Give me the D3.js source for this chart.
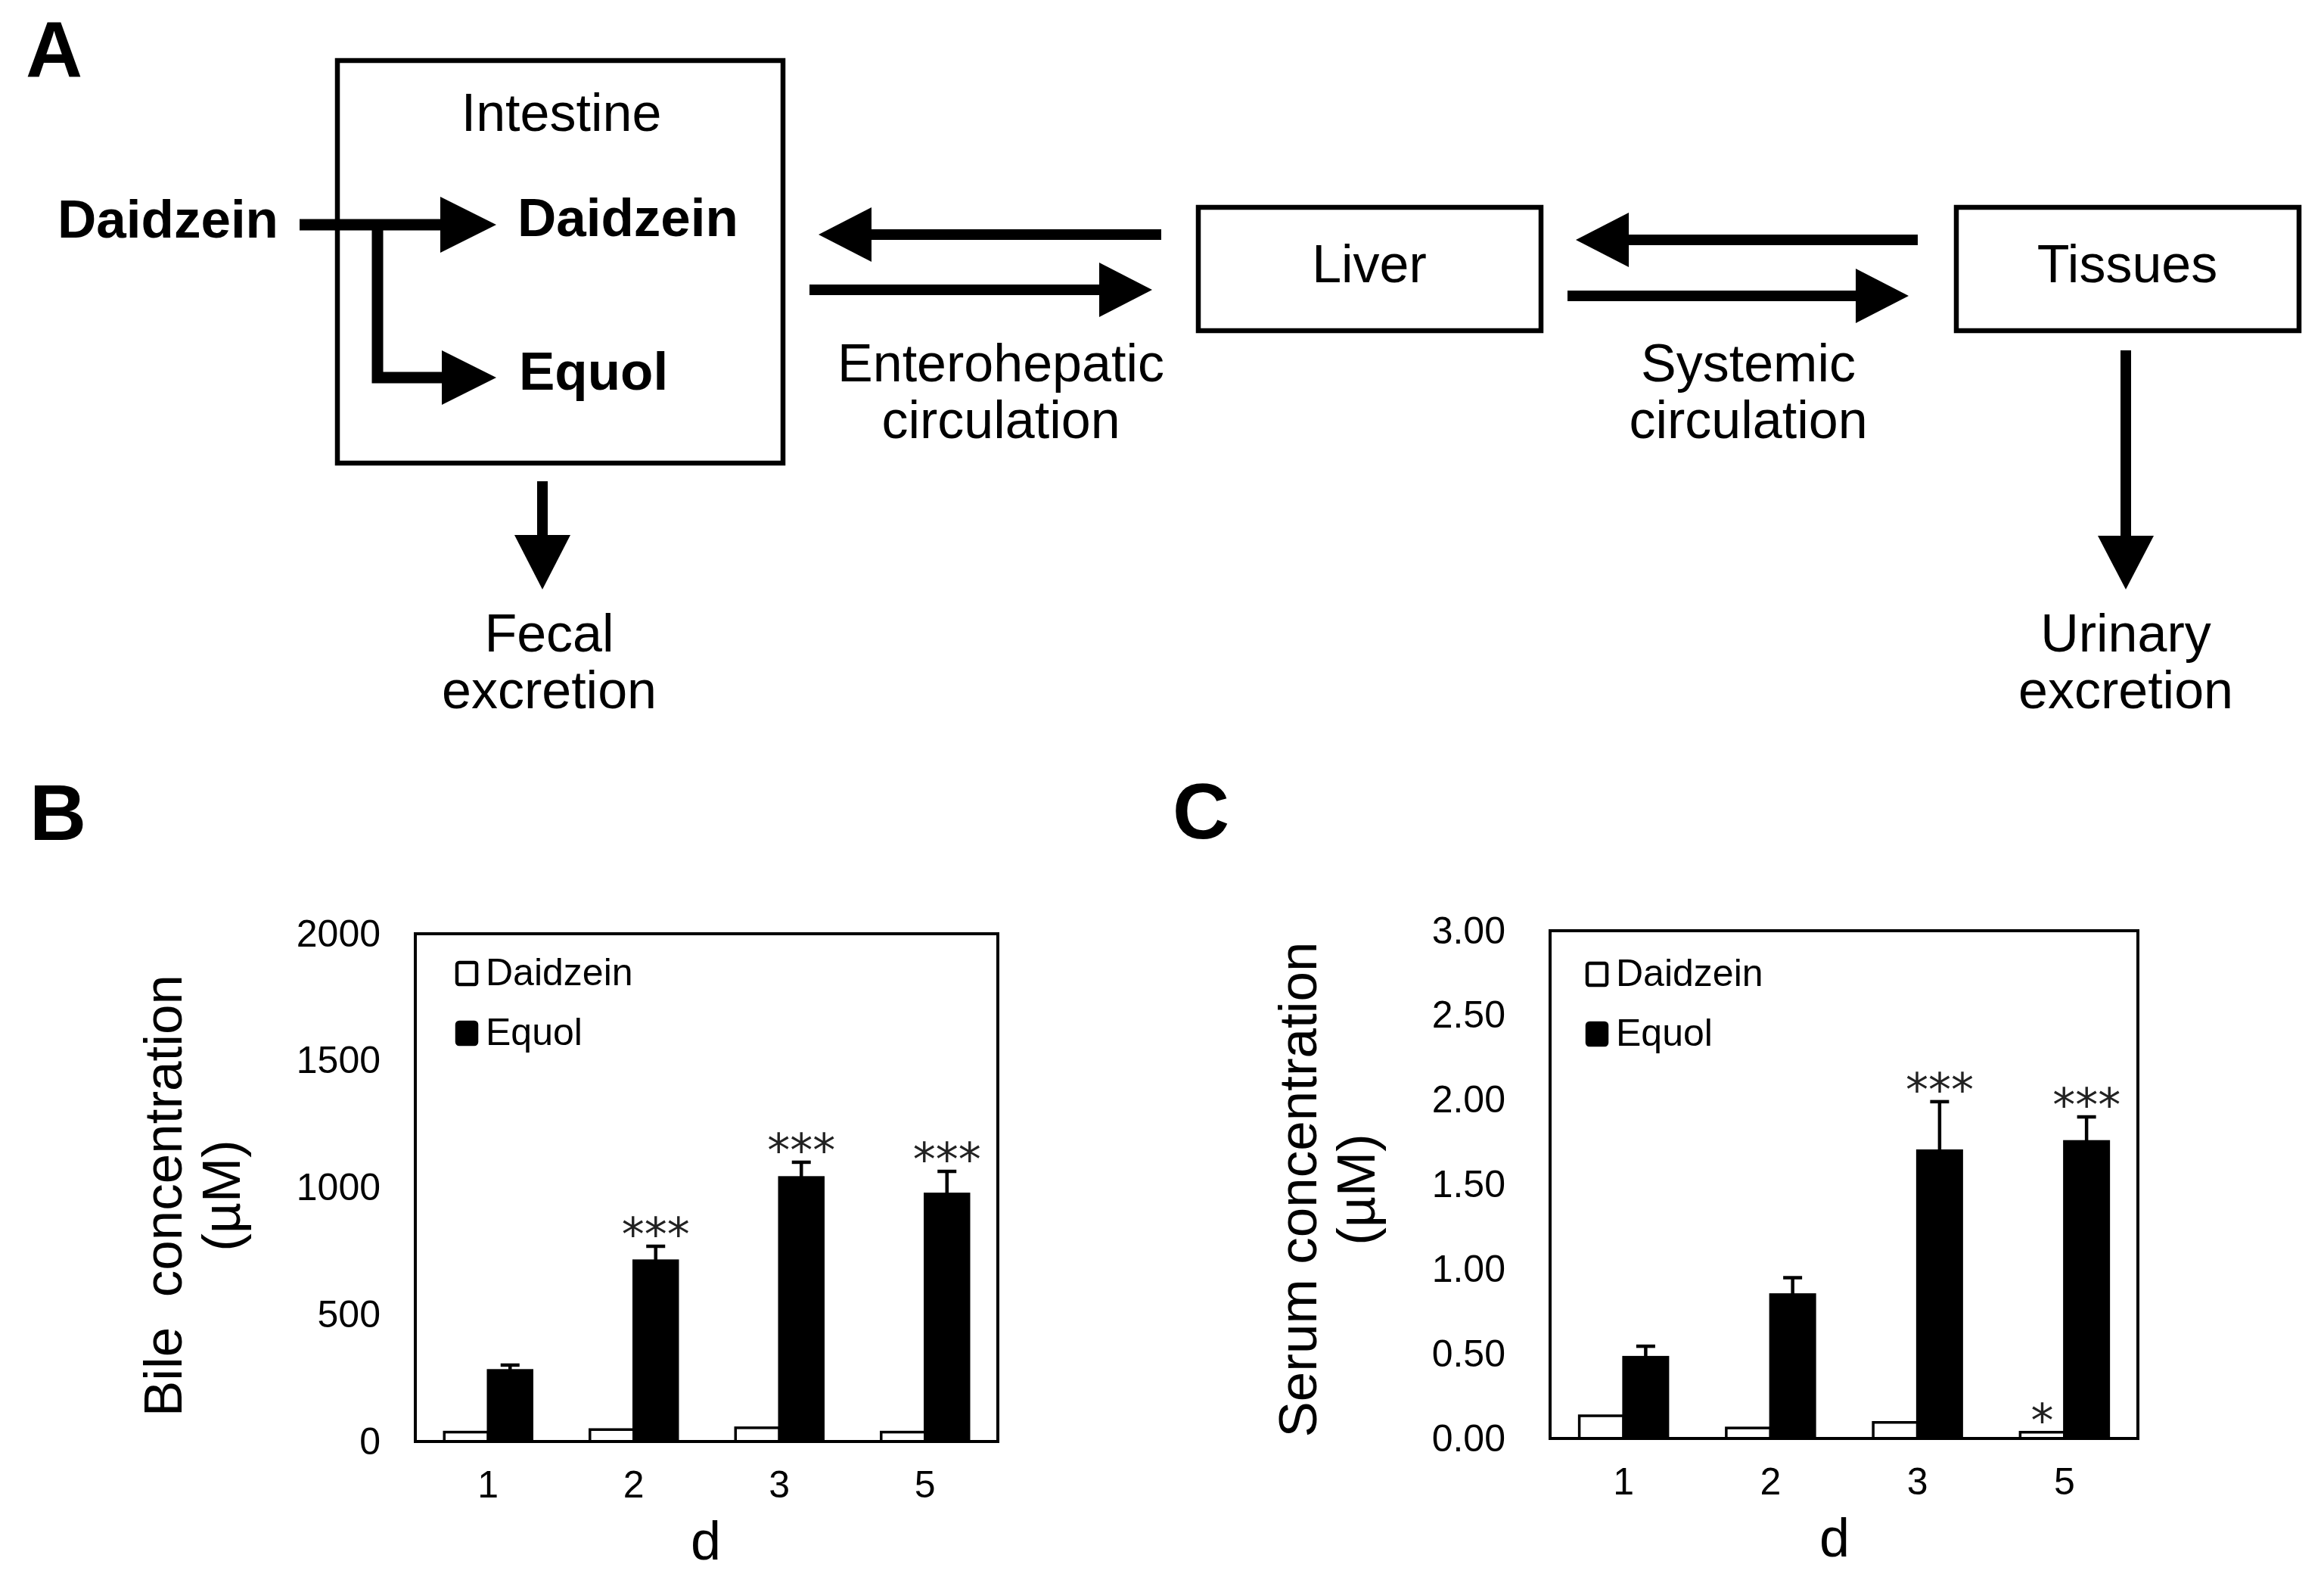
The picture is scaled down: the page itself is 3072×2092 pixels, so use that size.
<!DOCTYPE html>
<html>
<head>
<meta charset="utf-8">
<script src="https://cdn.jsdelivr.net/npm/d3@7"></script>
<style>
  body { margin: 0; background: #fff; }
  text { font-family: "Liberation Sans", Arial, sans-serif; fill: #000; }
</style>
</head>
<body>
<script>
/** data */
const days = ["1", "2", "3", "5"];
const seriesNames = ["Daidzein", "Equol"];

const bileDaidzein = [37, 47, 54, 37];
const bileEquol = [280, 712, 1040, 975];
const bileEquolErr = [21, 57, 60, 89];
const bileDaidzeinStars = ["", "", "", ""];
const bileEquolStars = ["", "***", "***", "***"];
const bileTicks = [0, 500, 1000, 1500, 2000];

const serumDaidzein = [0.134, 0.062, 0.095, 0.037];
const serumEquol = [0.48, 0.85, 1.70, 1.755];
const serumEquolErr = [0.065, 0.10, 0.29, 0.145];
const serumDaidzeinStars = ["", "", "", "*"];
const serumEquolStars = ["", "", "***", "***"];
const serumTicks = [0, 0.5, 1, 1.5, 2, 2.5, 3];

/** diagram labels (panel A) */
const boxLabels = ["Liver", "Tissues"];
const circulationLabels = [["Enterohepatic", "circulation"], ["Systemic", "circulation"]];
const excretionLabels = [["Fecal", "excretion"], ["Urinary", "excretion"]];

const W = 3072, H = 2092;
const svg = d3.select("body").append("svg")
    .attr("width", W)
    .attr("height", H);

svg.append("rect").attr("width", W).attr("height", H).attr("fill", "#fff");

/** panel letters */
svg.selectAll(".panelLetter")
    .data([["A", 34, 101], ["B", 39, 1110], ["C", 1550, 1108]])
    .join("text")
    .attr("class", "panelLetter")
    .attr("x", d => d[1])
    .attr("y", d => d[2])
    .attr("font-size", 104)
    .attr("font-weight", "bold")
    .text(d => d[0]);

/* ---------------- Panel A : schematic ---------------- */
const A = svg.append("g").attr("class", "panelA");

// draws a straight arrow from tail to tip with a triangle head
function arrow(g, pts, shaft, headLen, headHalf) {
    var n = pts.length;
    var tip = pts[n - 1], prev = pts[n - 2];
    var dx = tip[0] - prev[0], dy = tip[1] - prev[1];
    var len = Math.sqrt(dx * dx + dy * dy);
    var ux = dx / len, uy = dy / len;
    var bx = tip[0] - ux * headLen, by = tip[1] - uy * headLen;
    var line = pts.slice(0, n - 1).concat([[bx + ux * 2, by + uy * 2]]);
    g.append("path")
        .attr("d", d3.line()(line))
        .attr("fill", "none")
        .attr("stroke", "#000")
        .attr("stroke-width", shaft)
        .attr("stroke-linejoin", "miter")
        .attr("stroke-linecap", "butt");
    g.append("path")
        .attr("d", d3.line()([
            [bx - uy * headHalf, by + ux * headHalf],
            tip,
            [bx + uy * headHalf, by - ux * headHalf]
        ]) + "Z")
        .attr("fill", "#000");
}

// boxes
A.selectAll(".box")
    .data([[446, 80, 589, 532], [1584, 274, 453, 163], [2586, 274, 453, 163]])
    .join("rect")
    .attr("class", "box")
    .attr("x", d => d[0])
    .attr("y", d => d[1])
    .attr("width", d => d[2])
    .attr("height", d => d[3])
    .attr("fill", "none")
    .attr("stroke", "#000")
    .attr("stroke-width", 6.5);

A.append("text").attr("x", 742).attr("y", 173).attr("text-anchor", "middle")
    .attr("font-size", 70).text("Intestine");

A.append("text").attr("x", 368).attr("y", 314).attr("text-anchor", "end")
    .attr("font-size", 71).attr("font-weight", "bold").text("Daidzein");
A.append("text").attr("x", 684).attr("y", 312)
    .attr("font-size", 71).attr("font-weight", "bold").text("Daidzein");
A.append("text").attr("x", 686).attr("y", 515)
    .attr("font-size", 71).attr("font-weight", "bold").text("Equol");

A.selectAll(".boxLabel")
    .data(boxLabels)
    .join("text")
    .attr("class", "boxLabel")
    .attr("x", (d, i) => [1810, 2812][i])
    .attr("y", 373)
    .attr("text-anchor", "middle")
    .attr("font-size", 70)
    .text(d => d);

// two-line captions
[[circulationLabels[0], 1323, 504], [circulationLabels[1], 2311, 504],
 [excretionLabels[0], 726, 861], [excretionLabels[1], 2810, 861]].forEach(function (c) {
    A.append("g").selectAll("text")
        .data(c[0])
        .join("text")
        .attr("x", c[1])
        .attr("y", (d, i) => c[2] + i * 75)
        .attr("text-anchor", "middle")
        .attr("font-size", 70)
        .text(d => d);
});

// arrows
arrow(A, [[396, 297], [656, 297]], 15, 74, 37);
arrow(A, [[499, 297], [499, 499], [656, 499]], 15, 72, 36);
arrow(A, [[717, 636], [717, 779]], 14, 72, 37);
arrow(A, [[1535, 310], [1082, 310]], 14, 70, 36);
arrow(A, [[1070, 383], [1523, 383]], 14, 70, 36);
arrow(A, [[2535, 317], [2083, 317]], 14, 70, 36);
arrow(A, [[2072, 391], [2523, 391]], 14, 70, 36);
arrow(A, [[2810, 463], [2810, 779]], 14, 71, 37);

/* ---------------- Panels B and C : bar charts ---------------- */
function drawBars(cfg) {
    var g = svg.append("g").attr("class", cfg.name);

    const x0 = d3.scaleBand()
        .domain(days)
        .range([cfg.left, cfg.right])
        .paddingInner(0)
        .paddingOuter(0);
    const x1 = d3.scaleBand()
        .domain(seriesNames)
        .range([0, x0.bandwidth()])
        .paddingInner(0)
        .paddingOuter(0.66);
    const y = d3.scaleLinear()
        .domain(cfg.domain)
        .range([cfg.bottom, cfg.top]);

    var rows = days.map((d, i) => ({
        day: d,
        vals: [
            { s: "Daidzein", v: cfg.daidzein[i], e: 0, star: cfg.daidzeinStars[i] },
            { s: "Equol", v: cfg.equol[i], e: cfg.equolErr[i], star: cfg.equolStars[i] }
        ]
    }));

    /** bars */
    var grp = g.selectAll(".grp")
        .data(rows)
        .join("g")
        .attr("class", "grp")
        .attr("transform", d => `translate(${x0(d.day)},0)`);

    grp.selectAll(".bar")
        .data(d => d.vals)
        .join("rect")
        .attr("class", "bar")
        .attr("x", d => x1(d.s))
        .attr("width", x1.bandwidth())
        .attr("y", d => y(d.v))
        .attr("height", d => y(0) - y(d.v))
        .attr("fill", d => d.s === "Equol" ? "#000" : "#fff")
        .attr("stroke", "#000")
        .attr("stroke-width", 3.5);

    /** error bars (upper only) */
    var eb = grp.selectAll(".err")
        .data(d => d.vals.filter(v => v.e > 0))
        .join("g")
        .attr("class", "err");
    eb.append("line")
        .attr("x1", d => x1(d.s) + x1.bandwidth() / 2)
        .attr("x2", d => x1(d.s) + x1.bandwidth() / 2)
        .attr("y1", d => y(d.v))
        .attr("y2", d => y(d.v + d.e))
        .attr("stroke", "#000")
        .attr("stroke-width", 4.5);
    eb.append("line")
        .attr("x1", d => x1(d.s) + x1.bandwidth() / 2 - 12.5)
        .attr("x2", d => x1(d.s) + x1.bandwidth() / 2 + 12.5)
        .attr("y1", d => y(d.v + d.e))
        .attr("y2", d => y(d.v + d.e))
        .attr("stroke", "#000")
        .attr("stroke-width", 4.5);

    /** significance stars */
    var starFs = 60;
    grp.selectAll(".star")
        .data(d => d.vals.filter(v => v.star !== ""))
        .join("text")
        .attr("class", "star")
        .attr("x", d => x1(d.s) + x1.bandwidth() / 2)
        .attr("y", d => y(d.v + d.e) - 30 + 0.58 * starFs)
        .attr("text-anchor", "middle")
        .attr("font-size", starFs)
        .style("font-family", "'DejaVu Sans', sans-serif")
        .style("fill", "#222")
        .text(d => d.star);

    /** frame */
    g.append("rect")
        .attr("x", cfg.left)
        .attr("y", cfg.top)
        .attr("width", cfg.right - cfg.left)
        .attr("height", cfg.bottom - cfg.top)
        .attr("fill", "none")
        .attr("stroke", "#000")
        .attr("stroke-width", 4);

    /** y axis */
    var gy = g.append("g")
        .attr("transform", `translate(${cfg.left},0)`)
        .call(d3.axisLeft(y).tickValues(cfg.ticks).tickFormat(cfg.fmt).tickSize(0).tickPadding(cfg.yPad));
    gy.select(".domain").remove();
    gy.selectAll("text")
        .attr("font-size", 50)
        .style("font-family", "'Liberation Sans', Arial, sans-serif")
        .attr("fill", "#000");

    /** x axis */
    var gx = g.append("g")
        .attr("transform", `translate(0,${cfg.bottom})`)
        .call(d3.axisBottom(x0).tickSize(0).tickPadding(0));
    gx.select(".domain").remove();
    gx.selectAll("text")
        .attr("font-size", 50)
        .attr("dy", null)
        .attr("y", 74)
        .style("font-family", "'Liberation Sans', Arial, sans-serif")
        .attr("fill", "#000");

    g.append("text")
        .attr("x", cfg.dX)
        .attr("y", cfg.bottom + 156)
        .attr("text-anchor", "middle")
        .attr("font-size", 72)
        .text("d");

    /** y axis titles */
    g.append("text")
        .attr("transform", `translate(${cfg.titleX},${cfg.titleY}) rotate(-90)`)
        .attr("text-anchor", "middle")
        .attr("font-size", 71)
        .style("white-space", "pre")
        .text(cfg.title);
    g.append("text")
        .attr("transform", `translate(${cfg.titleX + 77},${cfg.titleY}) rotate(-90)`)
        .attr("text-anchor", "middle")
        .attr("font-size", 71)
        .text("(µM)");

    /** legend */
    var leg = g.selectAll(".leg")
        .data(seriesNames)
        .join("g")
        .attr("class", "leg")
        .attr("transform", (d, i) => `translate(${cfg.legX},${cfg.legY + i * 79})`);
    leg.append("rect")
        .attr("x", 2)
        .attr("y", -30)
        .attr("width", 26)
        .attr("height", 29)
        .attr("rx", 3)
        .attr("fill", d => d === "Equol" ? "#000" : "#fff")
        .attr("stroke", "#000")
        .attr("stroke-width", 4.5);
    leg.append("text")
        .attr("x", 40)
        .attr("y", 0)
        .attr("font-size", 50)
        .text(d => d);
}

drawBars({
    name: "panelB",
    left: 549, right: 1319, top: 1234, bottom: 1905,
    domain: [0, 2000], ticks: bileTicks, fmt: d3.format("d"), yPad: 46,
    daidzein: bileDaidzein, equol: bileEquol, equolErr: bileEquolErr,
    daidzeinStars: bileDaidzeinStars, equolStars: bileEquolStars,
    dX: 933, title: "Bile  concentration", titleX: 240, titleY: 1580,
    legX: 602, legY: 1302
});

drawBars({
    name: "panelC",
    left: 2049, right: 2826, top: 1230, bottom: 1901,
    domain: [0, 3], ticks: serumTicks, fmt: d3.format(".2f"), yPad: 59,
    daidzein: serumDaidzein, equol: serumEquol, equolErr: serumEquolErr,
    daidzeinStars: serumDaidzeinStars, equolStars: serumEquolStars,
    dX: 2425, title: "Serum concentration", titleX: 1740, titleY: 1572,
    legX: 2096, legY: 1303
});
</script>
</body>
</html>
